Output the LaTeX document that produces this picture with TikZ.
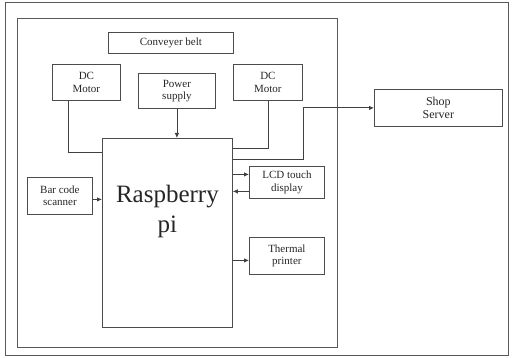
\documentclass[tikz,border=0pt]{standalone}
\usepackage{fontspec}
\setmainfont{Liberation Serif}
\usetikzlibrary{arrows.meta}
\begin{document}
\begin{tikzpicture}[x=1pt,y=-1pt,
  box/.style={draw=black!70,line width=0.8pt,inner sep=0pt,anchor=north west,align=center,font=\fontsize{11}{12.5}\selectfont,text=black!85},
  frame/.style={draw=black!65,line width=0.8pt},
  wire/.style={draw=black!75,line width=0.8pt},
  arr/.style={wire,-{Latex[length=5pt,width=4.5pt]}}]
\useasboundingbox (0,0) rectangle (513,358);
\draw[frame] (5,2) rectangle (508,355);
\draw[frame] (17,18) rectangle (337,347);
\node[box,minimum width=125pt,minimum height=21pt] (belt) at (108,32) {Conveyer belt};
\node[box,minimum width=68pt,minimum height=36pt] (dcl) at (52,64) {DC\\Motor};
\node[box,minimum width=77pt,minimum height=35pt] (ps) at (138,73) {Power\\supply};
\node[box,minimum width=69pt,minimum height=36pt] (dcr) at (233,64) {DC\\Motor};
\node[box,minimum width=128pt,minimum height=37pt,font=\fontsize{12}{13.5}\selectfont] (shop) at (374,89) {Shop\\Server};
\node[box,minimum width=130pt,minimum height=189pt] (pi) at (102,138) {};
\node[font=\fontsize{25}{30}\selectfont,text=black!85,align=center] (pit) at ([yshift=-73pt]pi.north) {Raspberry\\pi};
\node[box,minimum width=75pt,minimum height=32pt] (lcd) at (249,166) {LCD touch\\display};
\node[box,minimum width=65pt,minimum height=37pt] (bar) at (27,177) {Bar code\\scanner};
\node[box,minimum width=75pt,minimum height=37pt] (tp) at (249,237) {Thermal\\printer};
% connectors
\coordinate (m1) at ([xshift=16pt]dcl.south west);
\draw[wire] (m1) |- ([yshift=-14pt]pi.north west);
\draw[wire] (dcr.south) |- ([yshift=-10pt]pi.north east);
\draw[arr] (ps.south) -- (ps.south |- pi.north);
\draw[arr] ([yshift=-21pt]pi.north east) -- ++(71,0) |- (shop.west);
\coordinate (l1) at ([yshift=8pt]lcd.west);
\coordinate (l2) at ([yshift=-9pt]lcd.west);
\draw[arr] (l1 -| pi.east) -- (l1);
\draw[arr] (l2) -- (l2 -| pi.east);
\coordinate (b1) at ([yshift=-3.5pt]bar.east);
\draw[arr] (b1) -- (b1 -| pi.west);
\coordinate (t1) at ([yshift=-4.5pt]tp.west);
\draw[arr] (t1 -| pi.east) -- (t1);
\end{tikzpicture}
\end{document}
